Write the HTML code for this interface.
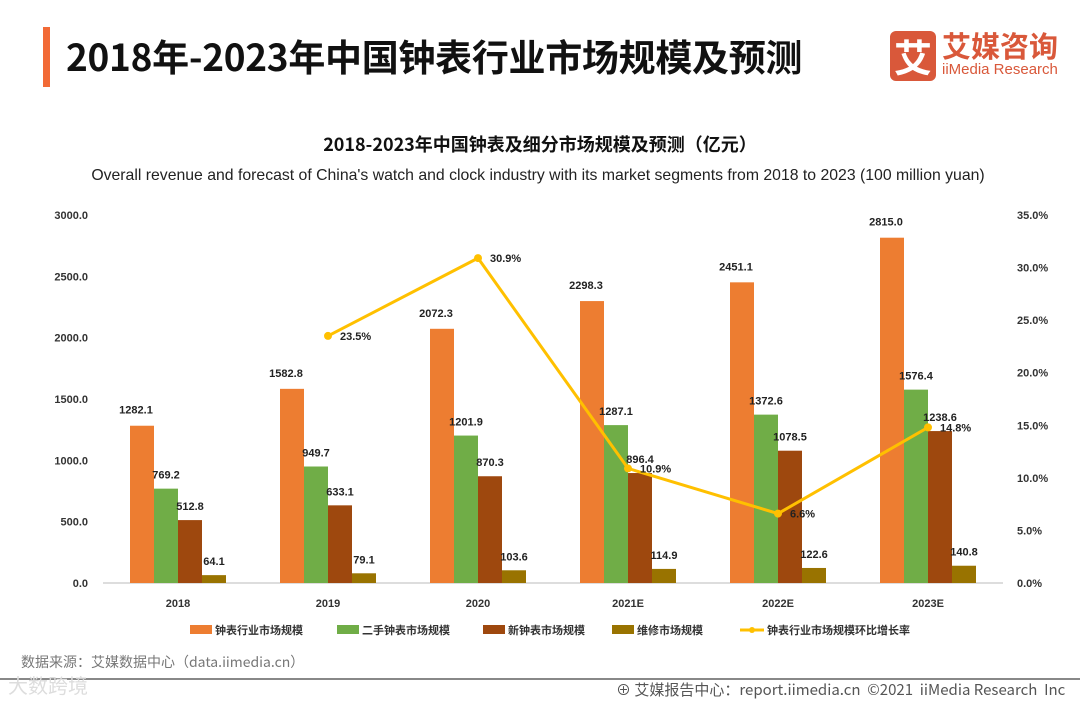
<!DOCTYPE html>
<html><head><meta charset="utf-8"><style>
body{margin:0;width:1080px;height:702px;background:#fff;font-family:"Liberation Sans","Noto Sans CJK SC",sans-serif;overflow:hidden;position:relative}
.abs{position:absolute}
</style></head><body>
<div class="abs" style="left:43px;top:27px;width:7px;height:60px;background:#F26A36"></div>
<div class="abs" style="left:66px;top:30px;font-size:37px;font-weight:bold;color:#111;font-family:'Noto Sans CJK SC',sans-serif;line-height:50px;letter-spacing:-0.3px">2018年-2023年中国钟表行业市场规模及预测</div>
<div class="abs" style="left:890px;top:31px;width:46px;height:50px;background:#D9583A;border-radius:6px;color:#fff;font-size:38px;text-align:center;line-height:50px;font-family:'Noto Sans CJK SC',sans-serif;font-weight:bold">艾</div>
<div class="abs" style="left:942px;top:28px;color:#D9583A;font-size:29px;font-weight:bold;font-family:'Noto Sans CJK SC',sans-serif;line-height:34px">艾媒咨询</div>
<div class="abs" style="left:942px;top:62px;color:#D9583A;font-size:15px;line-height:16px">iiMedia Research</div>
<svg id="c" class="abs" style="left:0;top:0" width="1080" height="702"></svg>
<script>
const categories=["2018","2019","2020","2021E","2022E","2023E"];
const total=[1282.1,1582.8,2072.3,2298.3,2451.1,2815.0];
const secondhand=[769.2,949.7,1201.9,1287.1,1372.6,1576.4];
const newWatch=[512.8,633.1,870.3,896.4,1078.5,1238.6];
const repair=[64.1,79.1,103.6,114.9,122.6,140.8];
const growth=[null,23.5,30.9,10.9,6.6,14.8];
const leftTicks=[0,500,1000,1500,2000,2500,3000];
const rightTicks=[0,5,10,15,20,25,30,35];
const seriesNames=["钟表行业市场规模","二手钟表市场规模","新钟表市场规模","维修市场规模","钟表行业市场规模环比增长率"];
const colors=["#ED7D31","#70AD47","#9E480E","#997300","#FFC000"];
const svg=document.getElementById('c');const NS="http://www.w3.org/2000/svg";
const y0=583,yTop=215;
const yL=v=>y0-(v/3000)*(y0-yTop);
const yR=v=>y0-(v/35)*(y0-yTop);
const xC=i=>178+i*150;
function el(t,a,txt){const e=document.createElementNS(NS,t);for(const k in a)e.setAttribute(k,a[k]);if(txt!==undefined)e.textContent=txt;svg.appendChild(e);return e;}
let e;
e=el('text',{x:540,y:151,'text-anchor':'middle','font-size':18,'font-weight':'bold',fill:'#111','font-family':"Noto Sans CJK SC,sans-serif"},"2018-2023年中国钟表及细分市场规模及预测（亿元）");

e=el('text',{x:538,y:180,'text-anchor':'middle','font-size':15.8,fill:'#222'},"Overall revenue and forecast of China's watch and clock industry with its market segments from 2018 to 2023 (100 million yuan)");

leftTicks.forEach(v=>{e=el('text',{x:88,y:yL(v)+4,'text-anchor':'end','font-size':11,'font-weight':'bold',fill:'#333'},v.toFixed(1));
});
rightTicks.forEach(v=>{e=el('text',{x:1017,y:yR(v)+4,'font-size':11,'font-weight':'bold',fill:'#333'},v.toFixed(1)+"%");
});
e=el('line',{x1:103,x2:1003,y1:y0,y2:y0,stroke:'#bbb'});
const series=[total,secondhand,newWatch,repair];const bw=24;
categories.forEach((c,i)=>{
 e=el('text',{x:xC(i),y:607,'text-anchor':'middle','font-size':11,'font-weight':'bold',fill:'#333'},c);
 
 series.forEach((s,k)=>{const x=xC(i)-48+k*bw;
  e=el('rect',{x:x,y:yL(s[i]),width:bw,height:y0-yL(s[i]),fill:colors[k]});
  
  e=el('text',{x:x+bw/2+(k==0?-6:0),y:yL(s[i])-(k==0?12:10),'text-anchor':'middle','font-size':11,'font-weight':'bold',fill:'#222'},s[i].toFixed(1));
  
 });
});
let pts=[];growth.forEach((g,i)=>{if(g!==null)pts.push([xC(i),yR(g),g]);});
e=el('polyline',{points:pts.map(p=>p[0]+','+p[1]).join(' '),fill:'none',stroke:colors[4],'stroke-width':3});

pts.forEach(p=>{e=el('circle',{cx:p[0],cy:p[1],r:4,fill:colors[4]});
 e=el('text',{x:p[0]+12,y:p[1]+4,'font-size':11,'font-weight':'bold',fill:'#222'},p[2].toFixed(1)+"%");
 });
const lx=[190,337,483,612,740];
seriesNames.forEach((n,k)=>{
 if(k<4){e=el('rect',{x:lx[k],y:625,width:22,height:9,fill:colors[k]});}
 else{e=el('line',{x1:lx[k],x2:lx[k]+24,y1:630,y2:630,stroke:colors[k],'stroke-width':3});el('circle',{cx:lx[k]+12,cy:630,r:3,fill:colors[k]});}
 
 e=el('text',{x:lx[k]+(k<4?25:27),y:634,'font-size':11,'font-weight':'bold',fill:'#333','font-family':"Noto Sans CJK SC,sans-serif"},n);
 
});
</script>
<div class="abs" style="left:21px;top:652px;font-size:14px;color:#777;font-family:'Noto Sans CJK SC',sans-serif">数据来源：艾媒数据中心（data.iimedia.cn）</div>
<div class="abs" style="left:0;top:678px;width:1080px;height:2px;background:#888"></div>
<div class="abs" style="left:8px;top:670px;font-size:20px;color:#ddd;font-family:'Noto Sans CJK SC',sans-serif">大数跨境</div>
<div class="abs" style="left:616px;top:679px;font-size:15px;color:#555;font-family:'Noto Sans CJK SC',sans-serif">⊕ 艾媒报告中心：report.iimedia.cn &nbsp;©2021 &nbsp;iiMedia Research &nbsp;Inc</div>
</body></html>
